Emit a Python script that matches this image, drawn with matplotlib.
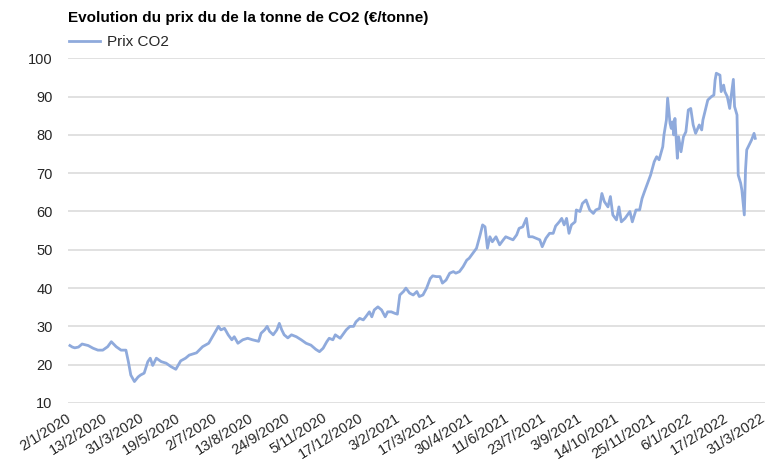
import numpy as np
import matplotlib
matplotlib.use("Agg")
import matplotlib.pyplot as plt

plt.rcParams['font.family'] = ['Liberation Sans', 'DejaVu Sans']

# trading session number (0 = 2/1/2020) and CO2 price
obs = [0, 2, 4, 7, 10, 15, 19, 23, 27, 31, 34, 38, 42, 46, 48, 50, 53, 56, 58,
       61, 64, 66, 68, 71, 75, 79, 83, 87, 91, 95, 98, 104, 109, 114, 118, 122,
       124, 127, 130, 133, 135, 138, 142, 146, 150, 155, 157, 160, 162, 164,
       167, 170, 172, 174, 176, 179, 182, 186, 190, 194, 198, 202, 205, 208,
       211, 213, 216, 218, 222, 224, 227, 230, 233, 235, 238, 241, 243, 246,
       248, 250, 253, 256, 259, 261, 264, 267, 269, 271, 274, 276, 279, 282,
       285, 287, 290, 293, 296, 298, 301, 304, 306, 309, 312, 315, 317, 320,
       323, 326, 328, 331, 334, 337, 339, 341, 343, 345, 347, 350, 353, 356,
       358, 361, 364, 367, 369, 372, 375, 377, 380, 383, 386, 388, 391, 394,
       397, 399, 402, 404, 406, 408, 410, 412, 415, 416, 419, 421, 424, 427,
       430, 432, 435, 437, 439, 442, 444, 446, 449, 451, 453, 456, 460, 462,
       465, 468, 470, 472, 475, 477, 480, 482, 484, 487, 488, 490, 491, 493,
       494, 495, 496, 497, 499, 500, 502, 504, 506, 508, 510, 512, 514, 517,
       519, 520, 522, 524, 527, 529, 530, 531, 534, 535, 537, 538, 540, 542,
       543, 545, 546, 548, 549, 551, 552, 554, 555, 556, 558, 560, 562, 563]

price = [25.0, 24.6, 24.4, 24.6, 25.4, 25.0, 24.3, 23.8, 23.8, 24.7, 26.0, 24.7,
         23.8, 23.8, 20.8, 17.3, 15.6, 16.8, 17.3, 17.8, 20.8, 21.7, 19.8, 21.7,
         20.8, 20.4, 19.5, 18.8, 21.0, 21.7, 22.5, 23.1, 24.7, 25.6, 27.8, 30.0,
         29.1, 29.5, 27.8, 26.5, 27.3, 25.6, 26.5, 26.9, 26.5, 26.1, 28.2, 29.1,
         30.0, 28.7, 27.8, 29.1, 30.8, 29.1, 27.8, 27.0, 27.8, 27.3, 26.5, 25.6,
         25.1, 24.0, 23.4, 24.3, 26.0, 26.9, 26.5, 27.8, 26.9, 27.8, 29.1, 30.0,
         30.0, 31.2, 32.1, 31.7, 32.5, 33.8, 32.5, 34.3, 35.1, 34.3, 32.5, 33.8,
         33.8, 33.4, 33.2, 38.2, 39.1, 40.0, 38.7, 38.2, 39.1, 37.8, 38.2, 40.0,
         42.5, 43.2, 43.0, 43.0, 41.3, 42.1, 43.9, 44.3, 43.9, 44.3, 45.6, 47.3,
         47.8, 49.1, 50.4, 53.9, 56.5, 56.0, 50.4, 53.4, 52.1, 53.4, 51.3, 52.6,
         53.4, 53.0, 52.6, 53.9, 55.6, 56.0, 58.2, 53.4, 53.4, 53.0, 52.6, 50.8,
         53.0, 54.3, 54.3, 56.2, 57.3, 58.2, 56.5, 58.2, 54.3, 56.5, 57.3, 60.4,
         60.0, 62.1, 63.0, 60.4, 59.5, 60.4, 60.8, 64.7, 62.6, 61.2, 63.9, 59.1,
         57.8, 61.2, 57.3, 58.2, 60.0, 57.3, 60.4, 60.4, 63.4, 65.2, 67.8, 69.5,
         73.0, 74.3, 73.5, 76.9, 80.0, 83.9, 89.6, 83.0, 81.7, 83.4, 80.0, 84.3,
         73.9, 79.5, 75.6, 79.5, 80.8, 86.5, 86.9, 82.6, 80.4, 82.6, 81.3, 83.9,
         86.5, 89.1, 90.0, 90.4, 94.3, 96.1, 95.6, 91.3, 93.0, 91.3, 90.0, 86.9,
         89.6, 94.5, 87.4, 85.2, 69.5, 67.4, 65.6, 59.1, 70.9, 76.1, 77.4, 78.7,
         80.4, 79.1]

tick_labels = ["2/1/2020", "13/2/2020", "31/3/2020", "19/5/2020", "2/7/2020",
               "13/8/2020", "24/9/2020", "5/11/2020", "17/12/2020", "3/2/2021",
               "17/3/2021", "30/4/2021", "11/6/2021", "23/7/2021", "3/9/2021",
               "14/10/2021", "25/11/2021", "6/1/2022", "17/2/2022", "31/3/2022"]
tick_step = 30  # one label every 30 sessions

fig = plt.figure(figsize=(7.69, 4.72), dpi=100)
ax = fig.add_axes([0.0884, 0.1462, 0.9064, 0.7303])

line, = ax.plot(obs, price, color='#8FAADC', lw=2.0, label='Prix CO2',
                solid_joinstyle='round')

ax.set_ylim(10, 100)
ax.set_yticks(np.arange(10, 101, 10))
ax.set_xlim(-1.6, 571)
ax.set_xticks(np.arange(len(tick_labels)) * tick_step)
ax.set_xticklabels(tick_labels, rotation=32, ha='right', va='center',
                   rotation_mode='anchor')

ax.grid(axis='y', color='#D9D9D9', lw=1.1)
ax.set_axisbelow(True)
for s in ax.spines.values():
    s.set_visible(False)
ax.tick_params(axis='both', length=0, labelsize=10.5, colors='#262626')
ax.tick_params(axis='y', pad=11)
ax.tick_params(axis='x', pad=10)

fig.text(68 / 769, 1 - 18 / 472, "Evolution du prix du de la tonne de CO2 (€/tonne)",
         fontsize=11, fontweight='bold', va='center', ha='left', color='#000000')
fig.legend(handles=[line], loc='center left',
           bbox_to_anchor=(69 / 769, 1 - 42 / 472), frameon=False,
           fontsize=11, handlelength=2.0, handletextpad=0.5,
           borderpad=0, borderaxespad=0, labelcolor='#262626')

fig.savefig("out.png", dpi=100)
